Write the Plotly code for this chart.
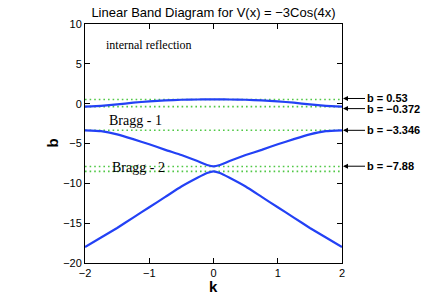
import plotly.graph_objects as go

# ---- data ----
k = [-2, -1.75, -1.5, -1.25, -1, -0.75, -0.5, -0.25, -0.1, 0,
     0.1, 0.25, 0.5, 0.75, 1, 1.25, 1.5, 1.75, 2]
band1 = [-0.372, -0.27, -0.09, 0.12, 0.29, 0.41, 0.49, 0.52, 0.53, 0.53,
         0.53, 0.52, 0.49, 0.41, 0.29, 0.12, -0.09, -0.27, -0.372]
band2 = [-3.346, -3.45, -3.85, -4.45, -5.1, -5.8, -6.45, -7.2, -7.7, -7.88,
         -7.7, -7.2, -6.45, -5.8, -5.1, -4.45, -3.85, -3.45, -3.346]
band3 = [-18.0, -16.8, -15.6, -14.3, -13.0, -11.7, -10.4, -9.3, -8.7, -8.5,
         -8.7, -9.3, -10.4, -11.7, -13.0, -14.3, -15.6, -16.8, -18.0]

edge_levels = [0.53, -0.372, -3.346, -7.88, -8.5]
label_values = [0.53, -0.372, -3.346, -7.88]
label_texts = ["b = 0.53", "b = \u22120.372", "b = \u22123.346", "b = \u22127.88"]
label_nudge = [0.12, -0.25, 0.0, 0.03]

x_ticks = [-2, -1, 0, 1, 2]
x_ticklabels = ["\u22122", "\u22121", "0", "1", "2"]
y_ticks = [-20, -15, -10, -5, 0, 5, 10]
y_ticklabels = ["\u221220", "\u221215", "\u221210", "\u22125", "0", "5", "10"]

region_texts = ["internal reflection", "Bragg - 1", "Bragg - 2"]
region_k = [-1.0, -1.21, -1.17]
region_b = [7.4, -2.1, -7.95]
region_size = [12, 14, 14]

BLUE = "rgb(35,65,245)"
GREEN = "rgb(80,200,70)"

fig = go.Figure()

for lv in edge_levels:
    fig.add_trace(go.Scatter(
        x=[k[0], k[-1]], y=[lv, lv], mode="lines",
        line=dict(color=GREEN, width=1.6, dash="1.6px,3px"),
        hoverinfo="skip", showlegend=False))

for band in (band1, band2, band3):
    fig.add_trace(go.Scatter(
        x=k, y=band, mode="lines",
        line=dict(color=BLUE, width=2.2, shape="spline", smoothing=0.4),
        showlegend=False))

annotations = []
for t, xk, yb, sz in zip(region_texts, region_k, region_b, region_size):
    annotations.append(dict(
        x=xk, y=yb, xref="x", yref="y", text=t, showarrow=False,
        font=dict(family="Liberation Serif, Times New Roman, serif", size=sz, color="black")))

for v, t, nd in zip(label_values, label_texts, label_nudge):
    annotations.append(dict(
        x=k[-1], y=v + nd, xref="x", yref="y", text="<b>" + t + "</b>",
        showarrow=True, arrowhead=2, arrowsize=1, arrowwidth=1, arrowcolor="black",
        ax=23, ay=0, xanchor="left", yanchor="middle", standoff=1,
        font=dict(family="Liberation Sans, Arial, sans-serif", size=11, color="black")))

annotations.append(dict(
    x=0.5, y=0, xref="paper", yref="paper", yshift=-23, text="<b>k</b>",
    showarrow=False, yanchor="middle",
    font=dict(family="Liberation Sans, Arial, sans-serif", size=15, color="black")))
annotations.append(dict(
    x=0, y=0.5, xref="paper", yref="paper", xshift=-33, text="<b>b</b>",
    showarrow=False, textangle=-90, xanchor="center",
    font=dict(family="Liberation Sans, Arial, sans-serif", size=15, color="black")))

axis_common = dict(
    showline=True, linecolor="black", linewidth=1, mirror="allticks",
    ticks="inside", ticklen=5, tickcolor="black", tickwidth=1,
    showgrid=False, zeroline=False,
    tickfont=dict(family="Liberation Sans, Arial, sans-serif", size=11, color="black"))

fig.update_layout(
    width=436, height=295,
    margin=dict(l=85, r=94, t=24, b=32),
    paper_bgcolor="white", plot_bgcolor="white",
    title=dict(text="Linear Band Diagram for V(x) = \u22123Cos(4x)",
               x=213.5 / 436, xanchor="center", xref="container",
               y=1 - 12 / 295, yanchor="middle", yref="container",
               font=dict(family="Liberation Sans, Arial, sans-serif", size=13, color="black")),
    xaxis=dict(range=[-2, 2], tickvals=x_ticks, ticktext=x_ticklabels, **axis_common),
    yaxis=dict(range=[-20, 10], tickvals=y_ticks, ticktext=y_ticklabels, **axis_common),
    annotations=annotations,
)

fig.write_html("out.html", config={"displayModeBar": False},
               post_script="document.body.style.margin='0px';document.body.style.overflow='hidden';")
